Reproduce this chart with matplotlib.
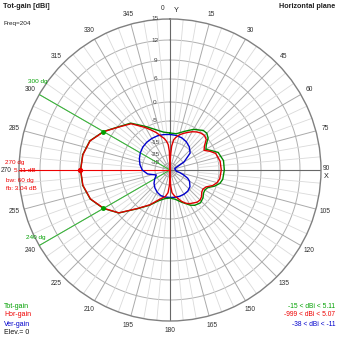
import numpy as np
import matplotlib
matplotlib.use("Agg")
import matplotlib.pyplot as plt
from matplotlib.transforms import offset_copy

plt.rcParams['font.family'] = ['Liberation Sans', 'DejaVu Sans']

# radiation pattern, azimuth in degrees (0 = Y, clockwise), gain in dBi
tot_deg = [0, 10, 20, 30, 40, 45, 50, 55, 60, 65, 70, 80, 90, 100, 105, 110, 115, 120,
           125, 130, 137, 145, 150, 160, 170, 180, 190, 200, 210, 220, 230, 240, 250,
           260, 270, 280, 290, 300, 310, 320, 330, 340, 350, 360]
tot_db = [-10.7, -10.8, -8.8, -6.0, -4.3, -4.2, -4.8, -7.2, -8.6, -6.5, -4.4, -3.6, -3.6,
          -3.8, -4.3, -5.8, -8.5, -9.2, -8.9, -7.8, -7.0, -7.8, -9.0, -12.0, -14.2, -15.0,
          -14.5, -12.8, -9.0, -4.6, -0.3, 2.1, 4.0, 4.9, 5.11, 4.9, 4.1, 2.1, -0.2, -1.8,
          -4.6, -7.8, -10.0, -10.7]

hor_deg = [0, 2, 4, 7, 10, 15, 20, 25, 30, 35, 40, 45, 50, 55, 60, 65, 70, 80, 90, 100,
           105, 110, 115, 120, 125, 130, 135, 140, 150, 155, 160, 165, 170, 175, 178, 180,
           182, 185, 190, 195, 200, 210, 220, 230, 240, 250, 260, 270, 280, 290, 300, 310,
           320, 330, 335, 340, 345, 350, 353, 356, 358, 360]
hor_db = [-999, -26, -18, -13.8, -12.6, -11.0, -9.8, -8.6, -7.3, -6.2, -5.4, -5.1, -5.8,
          -8.3, -9.6, -7.3, -5.2, -4.5, -4.4, -4.6, -5.1, -6.7, -9.3, -10.2, -9.9, -8.7,
          -8.1, -8.3, -9.8, -10.9, -12.5, -14.5, -16.2, -19, -25, -999, -25, -19, -15.8,
          -14.6, -13.4, -9.2, -4.7, -0.35, 2.05, 3.95, 4.85, 5.07, 4.85, 4.05, 2.05, -0.3,
          -2.0, -5.0, -7.4, -9.4, -11.6, -13.2, -14.5, -17, -22, -999]

ver_deg = [0, 10, 20, 30, 40, 50, 60, 65, 70, 75, 80, 85, 90, 95, 100, 105, 110, 115, 120,
           130, 140, 150, 160, 170, 180, 190, 200, 210, 220, 230, 240, 250, 260, 270, 280,
           290, 300, 310, 320, 330, 340, 350, 360]
ver_db = [-11.4, -11.6, -12.0, -12.8, -14.0, -16.3, -24, -33, -37, -38, -38, -37.5, -37,
          -36.5, -36, -31, -25.5, -21.5, -19.2, -16.5, -15.3, -15.0, -15.0, -15.2, -15.4,
          -15.4, -15.6, -16.8, -18.5, -20.5, -23, -25.5, -19, -15.2, -13.8, -12.8, -12.0,
          -11.4, -11.1, -11.0, -11.0, -11.2, -11.4]

ring_db = [15, 12, 9, 6, 0, -5, -15, -25, -35]
ring_lbl = ['15', '12', '9', '6', '0', '-5', '-15', '-25', '-35']
mark_deg = [300, 240]
max_deg = 270
max_db = 5.11
beam_db = 2.11

# nonlinear dB scale of the plot (dB -> relative radius)
scale_db = [-45, -35, -25, -15, -5, 0, 5.1, 6, 9, 12, 15]
scale_r = [0, 7, 15, 28, 49, 68, 89.5, 91, 110, 130, 151]


def fwd(v):
    return np.interp(v, scale_db, scale_r)


def inv(p):
    return np.interp(p, scale_r, scale_db)


W = 339
fig = plt.figure(figsize=(3.39, 3.39), dpi=100)
R = 151
cx, cy = 170, 170
ax = fig.add_axes([(cx - R) / W, (W - cy - R) / W, 2 * R / W, 2 * R / W],
                  projection='polar')
ax.set_theta_zero_location('N')
ax.set_theta_direction(-1)
ax.set_rscale('function', functions=(fwd, inv))
ax.set_rlim(-45, 15)
ax.grid(False)
ax.set_xticks([])
ax.set_yticks([])
ax.spines['polar'].set_color('#808080')
ax.spines['polar'].set_linewidth(1.0)

full = np.linspace(0, 2 * np.pi, 721)
for v in ring_db[1:]:
    ax.plot(full, np.full_like(full, v), color='#b0b0b0', lw=0.7, zorder=1)
for a in range(0, 360, 5):
    t = np.deg2rad(a)
    if a % 15 == 0:
        ax.plot([t, t], [-45, 15], color='#aaaaaa', lw=0.7, zorder=1)
    else:
        ax.plot([t, t], [-15, 15], color='#dadada', lw=0.6, zorder=1)
# main axes
for a in (0, 90, 180):
    t = np.deg2rad(a)
    ax.plot([t, t], [-45, 15], color='#686868', lw=0.8, zorder=2)

# radial labels along 0 deg
off = offset_copy(ax.transData, fig=fig, x=-15, y=0, units='dots')
for v, s in zip(ring_db, ring_lbl):
    ax.text(0, v, s, transform=off, ha='center', va='center', fontsize=4.6,
            color='#404040', zorder=3)

# angle labels
for a in range(0, 360, 15):
    if a in (0, 90, 270):
        continue
    t = np.deg2rad(a)
    x = cx + 161 * np.sin(t)
    y = cy - 161 * np.cos(t)
    fig.text(x / W, 1 - y / W, str(a), ha='center', va='center', fontsize=4.8,
             color='#303030')
fig.text(1 / W, 1 - 171 / W, '270', ha='left', va='center', fontsize=4.8, color='#303030')
fig.text(163 / W, 1 - 8 / W, '0', ha='center', va='center', fontsize=4.8, color='#303030')
fig.text(176 / W, 1 - 11 / W, 'Y', ha='center', va='center', fontsize=5.2, color='#202020')
fig.text(326 / W, 1 - 168 / W, '90', ha='center', va='center', fontsize=4.8, color='#303030')
fig.text(326 / W, 1 - 176 / W, 'X', ha='center', va='center', fontsize=5.2, color='#202020')

# marker lines
for a in mark_deg:
    t = np.deg2rad(a)
    ax.plot([t, t], [-45, 15], color='#33bb33', lw=0.7, zorder=3)
    ax.plot([t], [beam_db], 'o', color='#00a000', ms=2.5, zorder=6)
t = np.deg2rad(max_deg)
ax.plot([t, t], [-45, 15], color='#ee0000', lw=0.8, zorder=3)
ax.plot([t], [max_db], 'o', color='#ee0000', ms=2.8, zorder=6)

# patterns
ax.plot(np.deg2rad(ver_deg), ver_db, color='#0000cc', lw=1.0, zorder=4)
ax.plot(np.deg2rad(tot_deg), tot_db, color='#008800', lw=1.0, zorder=4)
ax.plot(np.deg2rad(hor_deg), hor_db, color='#dd0000', lw=1.0, zorder=5)


# texts
def ftext(x, y, s, **kw):
    fig.text(x / W, 1 - y / W, s, va='center', **kw)


ftext(3, 6, 'Tot-gain [dBi]', fontsize=5.2, fontweight='bold', color='#202020')
ftext(3, 24, 'Freq=204', fontsize=4.6, color='#202020')
ftext(335, 6, 'Horizontal plane', fontsize=5.2, fontweight='bold', color='#202020',
      ha='right')

ftext(28, 81, '300 dg', fontsize=4.6, color='#00a000')
ftext(26, 238, '240 dg', fontsize=4.6, color='#00a000')
ftext(5, 162, '270 dg', fontsize=4.6, color='#ee0000')
ftext(14, 171, '5.11 dB', fontsize=4.6, color='#ee0000')
ftext(6, 180, 'bw: 60 dg', fontsize=4.6, color='#ee0000')
ftext(6, 188, 'fb: 3.04 dB', fontsize=4.6, color='#ee0000')

ftext(4, 306, 'Tot-gain', fontsize=5.0, color='#00a000')
ftext(4, 315, 'Hor-gain', fontsize=5.0, color='#ee0000')
ftext(4, 324, 'Ver-gain', fontsize=5.0, color='#0000cc')
ftext(4, 333, 'Elev.= 0', fontsize=5.0, color='#101010')

ftext(335, 306, '-15 < dBi < 5.11', fontsize=4.8, color='#00a000', ha='right')
ftext(335, 315, '-999 < dBi < 5.07', fontsize=4.8, color='#ee0000', ha='right')
ftext(335, 324, '-38 < dBi < -11', fontsize=4.8, color='#0000cc', ha='right')

fig.savefig('out.png', dpi=100, facecolor='white')
